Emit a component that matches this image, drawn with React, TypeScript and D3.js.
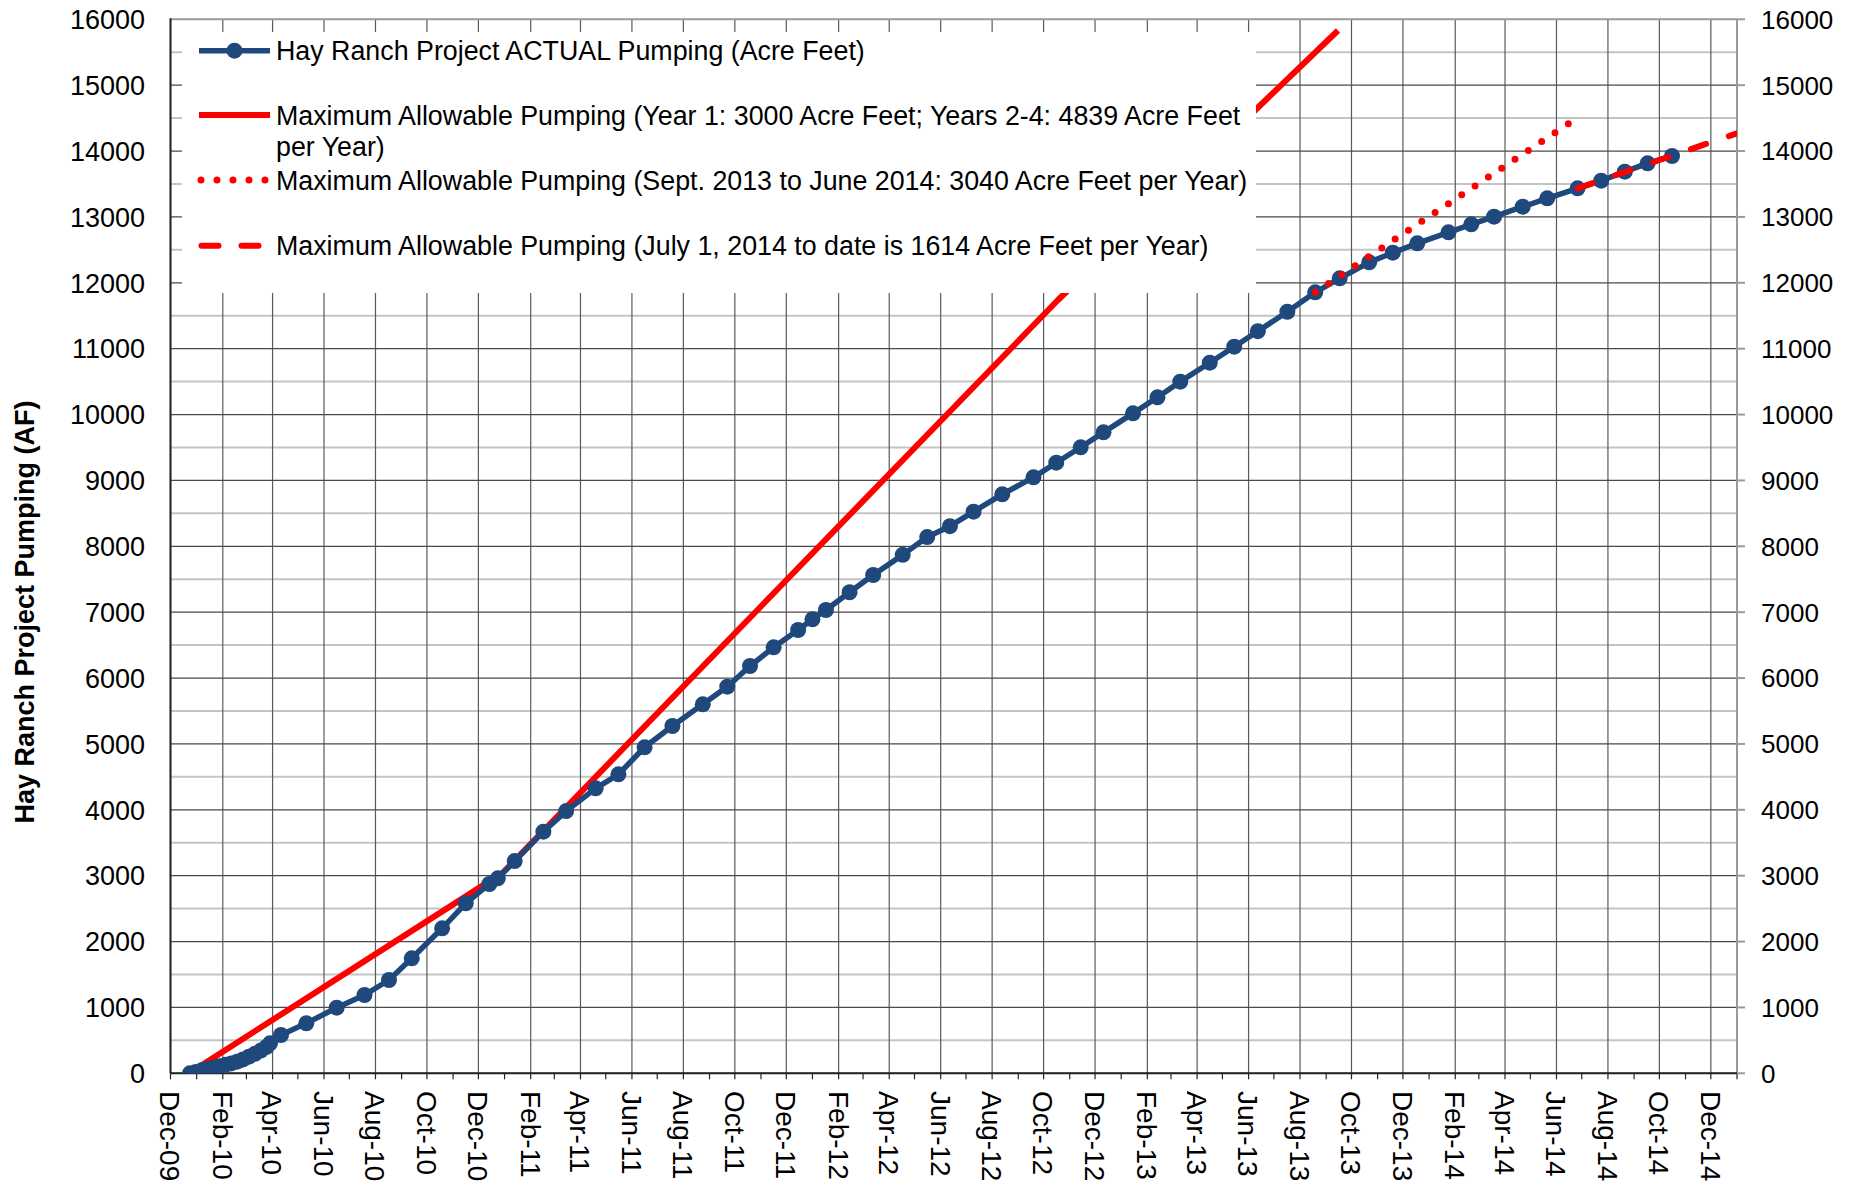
import React from "react";
import * as d3 from "d3";

// actual cumulative pumping
const actualDates = [
  "2009-12-24", "2009-12-31", "2010-01-07", "2010-01-14", "2010-01-21", "2010-01-28",
  "2010-02-04", "2010-02-11", "2010-02-18", "2010-02-25", "2010-03-04", "2010-03-11",
  "2010-03-18", "2010-03-25", "2010-03-29", "2010-04-11", "2010-05-11", "2010-06-16",
  "2010-07-19", "2010-08-17", "2010-09-13", "2010-10-19", "2010-11-16", "2010-12-14",
  "2010-12-24", "2011-01-13", "2011-02-16", "2011-03-15", "2011-04-19", "2011-05-16",
  "2011-06-16", "2011-07-19", "2011-08-24", "2011-09-22", "2011-10-19", "2011-11-16",
  "2011-12-15", "2012-01-01", "2012-01-17", "2012-02-14", "2012-03-13", "2012-04-17",
  "2012-05-16", "2012-06-12", "2012-07-10", "2012-08-13", "2012-09-19", "2012-10-16",
  "2012-11-14", "2012-12-11", "2013-01-15", "2013-02-13", "2013-03-12", "2013-04-16",
  "2013-05-15", "2013-06-12", "2013-07-17", "2013-08-19", "2013-09-17", "2013-10-22",
  "2013-11-19", "2013-12-18", "2014-01-24", "2014-02-20", "2014-03-19", "2014-04-22",
  "2014-05-21", "2014-06-26", "2014-07-24", "2014-08-21", "2014-09-17", "2014-10-16",
];
const actualValues = [
  0, 20, 45, 65, 85, 108,
  128, 150, 176, 210, 252, 295,
  345, 400, 455, 581, 759, 996,
  1189, 1416, 1745, 2201, 2581, 2874,
  2960, 3222, 3668, 3980, 4326, 4538,
  4949, 5272, 5601, 5869, 6183, 6467,
  6729, 6892, 7033, 7302, 7564, 7870,
  8140, 8305, 8526, 8789, 9047, 9269,
  9503, 9730, 10018, 10262, 10499, 10787,
  11030, 11265, 11561, 11856, 12068, 12311,
  12457, 12599, 12766, 12888, 13004, 13155,
  13282, 13434, 13550, 13687, 13814, 13925,
];

// maximum allowable (year 1 / years 2-4)
const maxDates = ["2009-12-23", "2010-12-30", "2012-10-18", "2013-09-15"];
const maxValues = [0, 3046, 11739, 15830];

// Sept 2013 to June 2014
const sept13Dates = ["2013-08-19", "2014-06-16"];
const sept13Values = [11856, 14421];

// July 2014 to date
const july14Dates = ["2014-06-26", "2015-01-01"];
const july14Values = [13434, 14270];

const yTicks = [0, 1000, 2000, 3000, 4000, 5000, 6000, 7000, 8000, 9000, 10000, 11000, 12000, 13000, 14000, 15000, 16000];

const legendLabels = [
  ["Hay Ranch Project ACTUAL Pumping (Acre Feet)"],
  ["Maximum Allowable Pumping (Year 1: 3000 Acre Feet; Years 2-4: 4839 Acre Feet", "per Year)"],
  ["Maximum Allowable Pumping (Sept. 2013 to June 2014: 3040 Acre Feet per Year)"],
  ["Maximum Allowable Pumping (July 1, 2014 to date is 1614 Acre Feet per Year)"],
];

const parse = d3.timeParse("%Y-%m-%d");
const zip = (ds, vs) => ds.map((d, i) => ({ date: parse(d), value: vs[i] }));

const BLUE = "#1F497D";
const RED = "#FF0000";
const FONT = "'Liberation Sans', Arial, sans-serif";

const App = () => {
  const width = 1858;
  const height = 1183;
  const left = 170.5, right = 1737, top = 19.3, bottom = 1073.3;

  const x = d3.scaleTime().domain([new Date(2009, 11, 1), new Date(2015, 0, 1)]).range([left, right]);
  const y = d3.scaleLinear().domain([0, 16000]).range([bottom, top]);

  const months = x.ticks(d3.timeMonth.every(1));
  const labelMonths = months.filter(m => m.getMonth() % 2 === 1);
  const fmt = d3.timeFormat("%b-%y");
  const minorY = y.ticks(32).filter(v => v % 1000 !== 0);

  const line = d3.line().x(d => x(d.date)).y(d => y(d.value));

  const actual = zip(actualDates, actualValues);
  const maxLine = zip(maxDates, maxValues);
  const sept13 = zip(sept13Dates, sept13Values);
  const july14 = zip(july14Dates, july14Values);

  const legendY = [50.7, 115, 180, 245.7];

  return (
    <svg width={width} height={height} style={{ position: "absolute", left: 0, top: 0, background: "#fff" }}>
      <rect x={0} y={0} width={width} height={height} fill="#fff" />
      <defs>
        <clipPath id="plot">
          <rect x={left} y={top} width={right - left} height={bottom - top} />
        </clipPath>
      </defs>

      {/* gridlines */}
      {minorY.map(v => (
        <line key={"mn" + v} x1={left} x2={right} y1={y(v)} y2={y(v)} stroke="#c4c4c4" strokeWidth={2} />
      ))}
      {labelMonths.map(m => (
        <line key={"vg" + m} x1={x(m)} x2={x(m)} y1={top} y2={bottom} stroke="#5a5a5a" strokeWidth={1.2} />
      ))}
      {yTicks.map(v => (
        <line key={"mj" + v} x1={left} x2={right} y1={y(v)} y2={y(v)} stroke={v === 16000 ? "#9a9a9a" : "#4a4a4a"} strokeWidth={v === 16000 ? 2 : 1.2} />
      ))}

      {/* axes */}
      <line x1={right} x2={right} y1={top} y2={bottom} stroke="#9a9a9a" strokeWidth={2} />
      <line x1={left} x2={left} y1={top - 1} y2={bottom} stroke="#222" strokeWidth={2} />
      <line x1={left} x2={right} y1={bottom} y2={bottom} stroke="#222" strokeWidth={2} />
      {months.map(m => (
        <line key={"t" + m} x1={x(m)} x2={x(m)} y1={bottom} y2={bottom + 6} stroke="#222" strokeWidth={1.2} />
      ))}
      {yTicks.map(v => (
        <line key={"rt" + v} x1={right} x2={right + 8} y1={y(v)} y2={y(v)} stroke="#9a9a9a" strokeWidth={2} />
      ))}

      {/* tick labels */}
      {yTicks.map(v => (
        <text key={"yl" + v} x={145} y={y(v)} dy="0.36em" textAnchor="end" fontFamily={FONT} fontSize={27} fill="#000">
          {v}
        </text>
      ))}
      {yTicks.map(v => (
        <text key={"yr" + v} x={1761} y={y(v)} dy="0.36em" textAnchor="start" fontFamily={FONT} fontSize={26} fill="#000">
          {v}
        </text>
      ))}
      {labelMonths.map(m => (
        <text
          key={"xl" + m}
          transform={`translate(${x(m)},${1091}) rotate(90)`}
          dy="0.36em"
          textAnchor="start"
          fontFamily={FONT}
          fontSize={28}
          fill="#000"
        >
          {fmt(m)}
        </text>
      ))}
      <text
        transform={`translate(34,612) rotate(-90)`}
        textAnchor="middle"
        fontFamily={FONT}
        fontWeight="bold"
        fontSize={27}
        fill="#000"
      >
        Hay Ranch Project Pumping (AF)
      </text>

      {/* series */}
      <g clipPath="url(#plot)">
        <path d={line(maxLine)} fill="none" stroke={RED} strokeWidth={6} strokeLinejoin="round" />
        <path d={line(actual)} fill="none" stroke={BLUE} strokeWidth={5.5} strokeLinejoin="round" />
        {actual.map((d, i) => (
          <circle key={"p" + i} cx={x(d.date)} cy={y(d.value)} r={8} fill={BLUE} />
        ))}
        <path d={line(sept13)} fill="none" stroke={RED} strokeWidth={7} strokeDasharray="0 16" strokeLinecap="round" />
        <path d={line(july14)} fill="none" stroke={RED} strokeWidth={6} strokeDasharray="16 24" strokeLinecap="round" />
      </g>

      {/* legend */}
      <rect x={182} y={32} width={1074} height={261} fill="#fff" />
      <line x1={199} x2={270} y1={legendY[0]} y2={legendY[0]} stroke={BLUE} strokeWidth={5.5} />
      <circle cx={234.5} cy={legendY[0]} r={8} fill={BLUE} />
      <line x1={199} x2={270} y1={legendY[1]} y2={legendY[1]} stroke={RED} strokeWidth={6} />
      <line x1={201} x2={266} y1={legendY[2]} y2={legendY[2]} stroke={RED} strokeWidth={7} strokeDasharray="0 16" strokeLinecap="round" />
      <line x1={201.5} x2={259} y1={legendY[3]} y2={legendY[3]} stroke={RED} strokeWidth={6} strokeDasharray="17 23" strokeLinecap="round" />
      {legendLabels.map((lines, i) => (
        <text key={"lg" + i} x={276} y={legendY[i]} dy="0.36em" fontFamily={FONT} fontSize={26.8} fill="#000">
          {lines.map((t, j) => (
            <tspan key={j} x={276} dy={j === 0 ? "0.36em" : 31.5}>
              {t}
            </tspan>
          ))}
        </text>
      ))}
    </svg>
  );
};

export default App;
